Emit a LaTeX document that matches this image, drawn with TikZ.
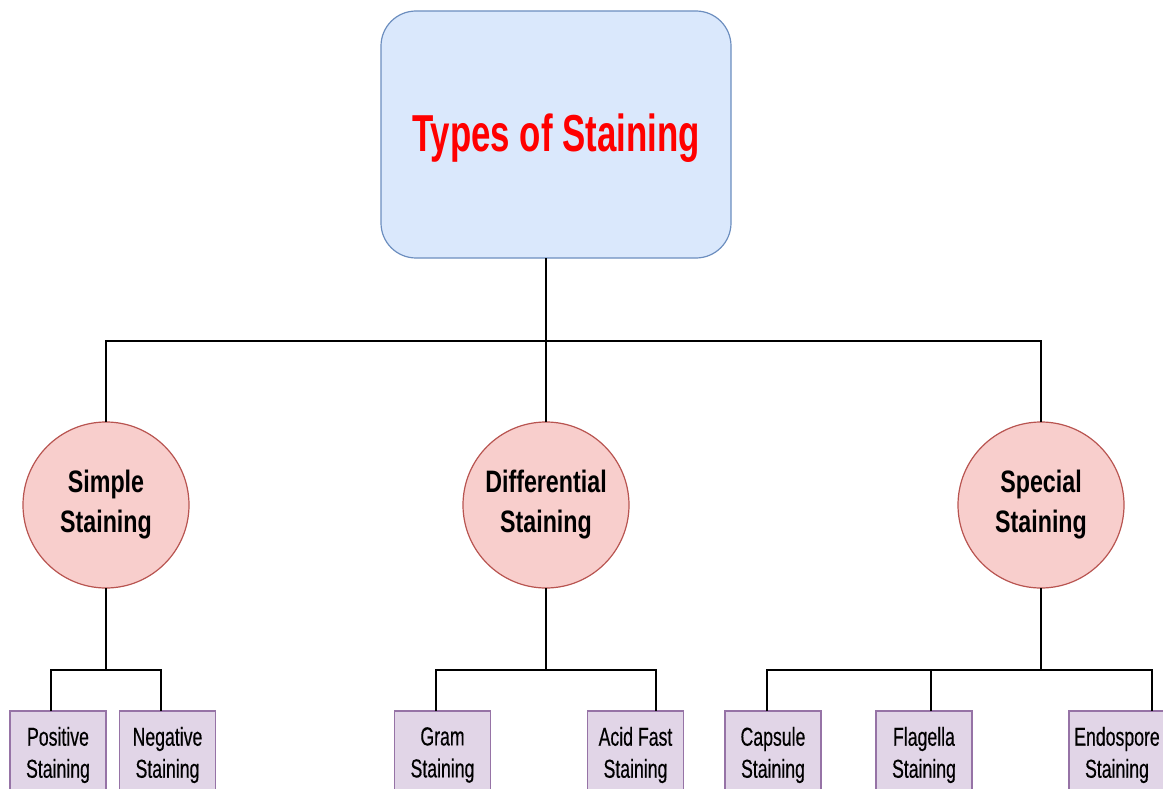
\documentclass[tikz,border=0pt]{standalone}
\usepackage{fontspec}
\setmainfont{Liberation Sans}
\newfontfamily\titlefont[FakeStretch=0.67]{Liberation Sans}
\newfontfamily\circfont[FakeStretch=0.75]{Liberation Sans}
\newfontfamily\boxfont[FakeStretch=0.68,FakeBold=0.4]{Liberation Sans}
\definecolor{topfill}{HTML}{DAE8FC}
\definecolor{topdraw}{HTML}{6C8EBF}
\definecolor{circfill}{HTML}{F8CECC}
\definecolor{circdraw}{HTML}{B85450}
\definecolor{leaffill}{HTML}{E1D5E7}
\definecolor{leafdraw}{HTML}{9673A6}
\definecolor{titlered}{HTML}{FF0000}
\tikzset{
  rootbox/.style={draw=topdraw, fill=topfill, line width=1.2pt, rounded corners=35pt,
    minimum width=350pt, minimum height=247pt, inner sep=0pt, outer sep=0pt},
  titletext/.style={font=\titlefont\bfseries\fontsize{52}{60}\selectfont, text=titlered, inner sep=0pt},
  catcirc/.style={circle, draw=circdraw, fill=circfill, line width=1.2pt,
    minimum size=166pt, inner sep=0pt, outer sep=0pt, align=center,
    font=\circfont\bfseries\fontsize{31}{40}\selectfont},
  leafbox/.style={draw=leafdraw, fill=leaffill, line width=1.2pt,
    minimum width=96pt, minimum height=82pt, inner sep=0pt, outer sep=0pt},
  leaftext/.style={align=center, inner sep=0pt, font=\boxfont\fontsize{26}{32}\selectfont},
  link/.style={draw=black, line width=1.4pt}
}
\begin{document}
\begin{tikzpicture}[x=1pt,y=-1pt]
\useasboundingbox (0,0) rectangle (1163,789);
\clip (0,0) rectangle (1163,789);
\node[rootbox] (top) at (556,134.5) {};
\node[titletext] (toplabel) at (556,138.5) {Types of Staining};
\node[catcirc] (simple) at (106,505) {Simple\\Staining};
\node[catcirc] (diff) at (546,505) {Differential\\Staining};
\node[catcirc] (special) at (1041,505) {Special\\Staining};
\foreach \nm/\cx/\la/\lb in {pos/58/Positive/Staining, neg/167.5/Negative/Staining,
    gram/442.5/Gram/Staining, acid/635.5/Acid Fast/Staining, caps/773/Capsule/Staining,
    flag/924/Flagella/Staining, endo/1117/Endospore/Staining}{
  \node[leafbox] (\nm) at (\cx,752) {};
  \node[leaftext] (\nm-label) at (\cx,755) {\la\\\lb};
}
\coordinate (hub) at (546,341);
\coordinate (hs) at (106,670);
\coordinate (hd) at (546,670);
\coordinate (hp) at (1041,670);
\draw[link] (top.south -| hub) -- (hub);
\draw[link] (simple.north) |- (hub) -| (special.north);
\draw[link] (diff.north) -- (hub);
\draw[link] (simple.south) -- (hs);
\draw[link] ([xshift=-7pt]pos.north) |- (hs) -| ([xshift=-6.5pt]neg.north);
\draw[link] (diff.south) -- (hd);
\draw[link] ([xshift=-6.5pt]gram.north) |- (hd) -| ([xshift=20.5pt]acid.north);
\draw[link] (special.south) -- (hp);
\draw[link] ([xshift=-6pt]caps.north) |- (hp) -| ([xshift=35pt]endo.north);
\draw[link] ([xshift=7pt]flag.north) -- ([xshift=7pt]flag.north |- hp);
\end{tikzpicture}
\end{document}
